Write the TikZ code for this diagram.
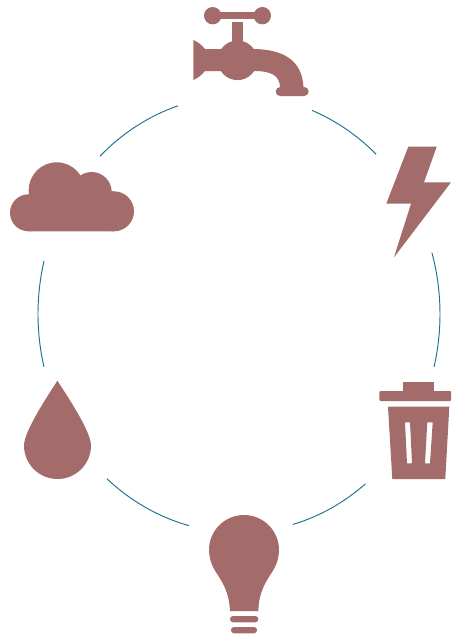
\documentclass[tikz,border=0pt]{standalone}
\definecolor{iconrose}{HTML}{A36B69}
\definecolor{ringblue}{HTML}{1C7391}
\tikzset{
  icon/.style={fill=iconrose,draw=none},
  ringarc/.style={draw=ringblue,line width=0.95pt,line cap=butt},
}
\newcommand{\ringseg}[2]{\draw[ringarc] (239,314) ++(#1:201 and 218.5) arc[start angle=#1,end angle=#2,x radius=201,y radius=218.5];}
\begin{document}
\begin{tikzpicture}[x=1pt,y=-1pt]
\useasboundingbox (0,0) rectangle (451,637);
% ring: y axis is flipped, so angles are negated
\ringseg{-68.7}{-47}
\ringseg{-16.3}{14}
\ringseg{51}{74.4}
\ringseg{104.4}{131.1}
\ringseg{166}{194}
\ringseg{226.2}{252.3}
% faucet
\fill[icon] (212.7,15.7) circle[radius=8.7];
\fill[icon] (262.3,15.7) circle[radius=8.7];
\fill[icon] (212,12.4) rectangle (263,19);
\fill[icon] (232.3,22) rectangle (243,45);
\fill[icon] (237.5,60.3) circle[radius=19.8];
\fill[icon] (193.3,40) .. controls (197,41.5) and (202,45) .. (205,49) -- (254,49)
  .. controls (283,49.5) and (302,60) .. (303.5,87) -- (280,87)
  .. controls (279.5,76) and (272,71) .. (254,71) -- (205,71)
  .. controls (202,75) and (197,78.5) .. (193.3,80) -- cycle;
\fill[icon,rounded corners=4.5pt] (275.7,87) rectangle (308.7,96);
% bolt
\fill[icon] (408.3,146.7) -- (436.7,146.7) -- (424,182.3) -- (451,182.3) -- (394,257.3) -- (411,203.7) -- (386.3,203.7) -- cycle;
% cloud
\fill[icon] (56.7,190.3) circle[radius=28];
\fill[icon] (91.7,192) circle[radius=20];
\fill[icon] (28.5,212.8) circle[radius=18.5];
\fill[icon] (114,211.3) circle[radius=20];
\fill[icon] (28.5,194.3) -- (40,190) -- (114,191.3) -- (114,231.3) -- (28.5,231.3) -- cycle;
% trash can
\fill[icon] (403.3,381.7) rectangle (434,392);
\fill[icon,rounded corners=1pt] (379.3,391) rectangle (451,401);
\fill[icon,even odd rule] (388,406.7) -- (449.3,406.7) -- (445.3,479) -- (392.3,479) -- cycle
  (405,422.3) -- (410,422.3) -- (412,463.3) -- (407,463.3) -- cycle
  (427.3,422.3) -- (432.7,422.3) -- (430,463.3) -- (425,463.3) -- cycle;
% drop
\fill[icon] (57.4,380.7) .. controls (48.9,394) and (24,431) .. (24,445.5)
  arc[start angle=180,end angle=360,x radius=33.5,y radius=-33.5]
  .. controls (91,431) and (65.9,394) .. (57.4,380.7) -- cycle;
% bulb
\fill[icon] (215.7,571.7) .. controls (211,564.5) and (209,557) .. (209,550)
  arc[start angle=180,end angle=360,x radius=35,y radius=35]
  .. controls (279,557) and (277,564.5) .. (272.3,571.7)
  .. controls (265,583) and (259,592) .. (258.3,611) -- (230,611)
  .. controls (229,592) and (223,583) .. (215.7,571.7) -- cycle;
\fill[icon,rounded corners=3pt] (230,616) rectangle (258.3,622.3);
\fill[icon,rounded corners=3pt] (231,627) rectangle (257,633.3);
\end{tikzpicture}
\end{document}
